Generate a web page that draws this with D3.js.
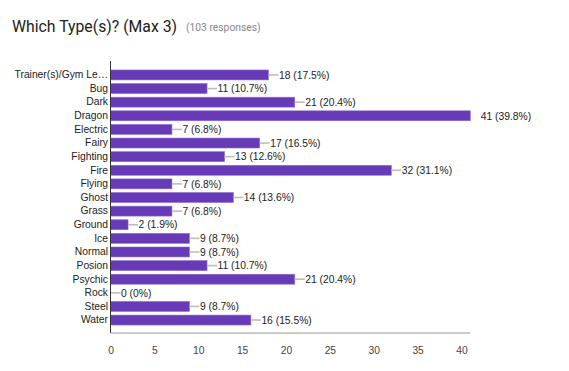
<!DOCTYPE html>
<html>
<head>
<meta charset="utf-8">
<script src="https://cdn.jsdelivr.net/npm/d3@7"></script>
<style>
  body { margin: 0; background: #fff; }
  svg text { font-family: Arial, "Liberation Sans", sans-serif; }
</style>
</head>
<body>
<svg id="chart" width="569" height="371"></svg>
<script>
// data
const categories = [
	"Trainer(s)/Gym Le\u2026", "Bug", "Dark", "Dragon", "Electric", "Fairy",
	"Fighting", "Fire", "Flying", "Ghost", "Grass", "Ground", "Ice",
	"Normal", "Posion", "Psychic", "Rock", "Steel", "Water"
];
const counts = [18, 11, 21, 41, 7, 17, 13, 32, 7, 14, 7, 2, 9, 9, 11, 21, 0, 9, 16];
const percents = ["17.5%", "10.7%", "20.4%", "39.8%", "6.8%", "16.5%", "12.6%", "31.1%",
	"6.8%", "13.6%", "6.8%", "1.9%", "8.7%", "8.7%", "10.7%", "20.4%", "0%", "8.7%", "15.5%"];
const xTicks = [0, 5, 10, 15, 20, 25, 30, 35, 40];
const responses = 103;

const svg = d3.select("#chart");
const fontSize = "10.3px";

// title
svg.append("text")
	.attr("x", 12)
	.attr("y", 32)
	.style("font-family", "Roboto, sans-serif")
	.style("font-size", "15.8px")
	.attr("fill", "#212121")
	.text("Which Type(s)? (Max 3)");

svg.append("text")
	.attr("x", 186)
	.attr("y", 31)
	.style("font-family", "Roboto, sans-serif")
	.style("font-size", "10.3px")
	.attr("fill", "#888")
	.text(`(${responses} responses)`);

const plotLeft = 110.5;
const plotTop = 61;
const plotBottom = 333;

const x = d3.scaleLinear().domain([0, 40]).range([plotLeft, 461.5]);
const y = d3.scaleBand().domain(categories).range([68.2, 326.8]).paddingInner(0.27).paddingOuter(0.13);

// bars
svg.append("g")
	.selectAll("rect")
	.data(categories)
	.join("rect")
	.attr("x", x(0))
	.attr("y", d => y(d))
	.attr("width", (d, i) => x(counts[i]) - x(0))
	.attr("height", y.bandwidth())
	.attr("fill", "#673ab7")
	.attr("stroke", "#8e6bcc")
	.attr("stroke-width", 0.6);

// leader lines + value labels
const maxCount = d3.max(counts);
const labels = svg.append("g");
categories.forEach((c, i) => {
	const x0 = x(counts[i]);
	const cy = y(c) + y.bandwidth() / 2;
	if (counts[i] !== maxCount) {
		labels.append("line")
			.attr("x1", x0).attr("x2", x0 + 10)
			.attr("y1", cy).attr("y2", cy)
			.attr("stroke", "#bdbdbd")
			.attr("stroke-width", 1.6);
	}
	labels.append("text")
		.attr("x", x0 + 10.5)
		.attr("y", cy)
		.attr("dy", "0.36em")
		.style("font-size", fontSize)
		.attr("fill", "#222")
		.text(`${counts[i]} (${percents[i]})`);
});

// y axis
const yAxis = d3.axisLeft(y).tickSize(0).tickPadding(2.5);
svg.append("g")
	.attr("transform", `translate(${plotLeft},0)`)
	.call(yAxis)
	.call(g => g.select(".domain").remove())
	.call(g => g.selectAll("text")
		.style("font-size", fontSize)
		.attr("fill", "#222"));

svg.append("line")
	.attr("x1", plotLeft).attr("x2", plotLeft)
	.attr("y1", plotTop).attr("y2", plotBottom)
	.attr("stroke", "#333")
	.attr("stroke-width", 1);

// x axis
const xAxis = d3.axisBottom(x).tickValues(xTicks).tickSize(0).tickPadding(14);
svg.append("g")
	.attr("transform", `translate(0,${plotBottom})`)
	.call(xAxis)
	.call(g => g.select(".domain").remove())
	.call(g => g.selectAll("text")
		.style("font-size", fontSize)
		.attr("fill", "#444"));

svg.append("line")
	.attr("x1", plotLeft).attr("x2", 470)
	.attr("y1", plotBottom).attr("y2", plotBottom)
	.attr("stroke", "#999")
	.attr("stroke-width", 1);
</script>
</body>
</html>
